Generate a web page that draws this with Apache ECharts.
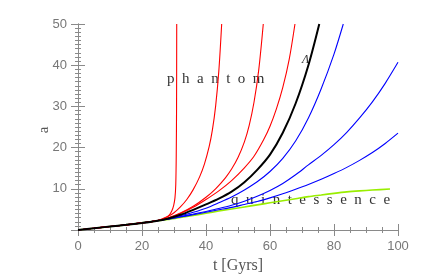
<!DOCTYPE html>
<html>
<head>
<meta charset="utf-8">
<script src="https://cdn.jsdelivr.net/npm/echarts@6/dist/echarts.min.js"></script>
<style>
html,body{margin:0;padding:0;background:#fff;}
#chart{width:421px;height:280px;}
</style>
</head>
<body>
<div id="chart"></div>
<script>
// shared early history (t in Gyr, a)
var commonT = [0, 5, 10, 15, 20, 24];
var commonA = [0, 0.42, 0.85, 1.25, 1.72, 2.15];

// phantom curves (red)
var red1T = [26, 27.5, 28.5, 29.3, 29.9, 30.3, 30.55, 30.7, 30.8, 30.85];
var red1A = [2.55, 3.0, 3.6, 4.6, 6.0, 7.8, 11, 18, 30, 50];
var red2T = [26, 28, 30, 32, 34, 36, 38, 39.5, 41, 42, 43, 44, 44.9];
var red2A = [2.6, 3.25, 4.2, 5.6, 7.4, 9.8, 12.9, 16.0, 20.3, 24.3, 30.0, 38.5, 50];
var red3T = [28, 32, 36, 40, 43, 46, 48, 50, 52, 53.5, 55, 56.5, 57.9];
var red3A = [2.9, 4.1, 5.75, 7.95, 10.0, 12.6, 14.8, 17.6, 21.4, 25.4, 31.0, 39.0, 50];
var red4T = [28, 32, 36, 40, 44, 48, 52, 55, 58, 60, 62, 64, 66, 67.8];
var red4A = [2.85, 4.0, 5.5, 7.4, 9.5, 12.0, 15.1, 17.9, 21.9, 25.2, 29.4, 34.6, 41.4, 50];

// cosmological constant (black)
var lambdaT = [28, 32, 36, 40, 44, 48, 52, 56, 60, 64, 68, 72, 75.4];
var lambdaA = [2.75, 3.7, 4.9, 6.2, 7.6, 9.3, 11.6, 14.6, 18.3, 23.6, 30.7, 40.0, 50];

// quintessence curves (blue)
var blue1T = [28, 32, 36, 40, 44, 48, 52, 56, 60, 64, 68, 72, 76, 80, 82.9];
var blue1A = [2.7, 3.45, 4.3, 5.3, 6.6, 8.0, 9.7, 11.7, 14.2, 17.4, 21.6, 27.2, 34.3, 42.7, 50];
var blue2T = [28, 32, 36, 40, 44, 48, 52, 56, 60, 64, 68, 72, 76, 80, 84, 88, 92, 96, 100];
var blue2A = [2.65, 3.25, 3.85, 4.5, 5.2, 6.0, 7.0, 8.2, 9.6, 11.3, 13.4, 15.8, 18.1, 20.7, 23.7, 27.2, 31.1, 35.6, 40.7];
var blue3T = [28, 32, 36, 40, 44, 48, 52, 56, 60, 64, 68, 72, 76, 80, 84, 88, 92, 96, 100];
var blue3A = [2.6, 3.15, 3.7, 4.3, 4.9, 5.5, 6.2, 6.9, 7.8, 8.8, 9.9, 11.05, 12.3, 13.7, 15.2, 16.9, 18.8, 21.0, 23.5];

// slow quintessence (green)
var greenT = [28, 32, 36, 40, 44, 48, 52, 56, 60, 64, 68, 72, 76, 80, 84, 88, 92, 97.5];
var greenA = [2.55, 3.05, 3.55, 4.05, 4.6, 5.1, 5.6, 6.1, 6.6, 7.1, 7.6, 8.1, 8.5, 8.9, 9.25, 9.5, 9.7, 9.95];

var xTicks = [0, 20, 40, 60, 80, 100];
var yTicks = [10, 20, 30, 40, 50];

function pts(t, a) {
  var out = [];
  for (var i = 0; i < commonT.length; i++) out.push([commonT[i], commonA[i]]);
  for (var j = 0; j < t.length; j++) out.push([t[j], a[j]]);
  return out;
}

var curves = [
  {d: pts(greenT, greenA), c: '#99ee00', w: 1.6},
  {d: pts(blue3T, blue3A), c: '#0000ff', w: 1.1},
  {d: pts(blue2T, blue2A), c: '#0000ff', w: 1.1},
  {d: pts(blue1T, blue1A), c: '#0000ff', w: 1.1},
  {d: pts(red4T, red4A), c: '#ff0000', w: 1.1},
  {d: pts(red3T, red3A), c: '#ff0000', w: 1.1},
  {d: pts(red2T, red2A), c: '#ff0000', w: 1.1},
  {d: pts(red1T, red1A), c: '#ff0000', w: 1.1},
  {d: pts(lambdaT, lambdaA), c: '#000000', w: 2}
];

var axisGrey = '#8a8a8a';
var labelGrey = '#777';

function xAx(pos, showLabel) {
  return {
    type: 'value', position: pos, min: 0, max: 100, interval: 20,
    axisLine: {show: true, lineStyle: {color: axisGrey, width: 1}},
    axisTick: {show: true, inside: true, length: 6, lineStyle: {color: axisGrey}},
    minorTick: {show: true, splitNumber: 4, length: 3, lineStyle: {color: axisGrey}},
    splitLine: {show: false},
    axisLabel: {show: showLabel, color: labelGrey, fontSize: 13, margin: 10,
      fontFamily: 'Liberation Sans',
      formatter: function (v) { return xTicks.indexOf(v) >= 0 ? String(v) : ''; }},
    name: showLabel ? 't [Gyrs]' : '',
    nameLocation: 'middle', nameGap: 23,
    nameTextStyle: {fontFamily: 'Liberation Serif', fontSize: 16, color: '#555'}
  };
}
function yAx(pos, showLabel) {
  return {
    type: 'value', position: pos, min: 0, max: 50, interval: 10,
    axisLine: {show: true, lineStyle: {color: axisGrey, width: 1}},
    axisTick: {show: true, inside: true, length: 7, lineStyle: {color: axisGrey}},
    minorTick: {show: true, splitNumber: 10, length: 3, lineStyle: {color: axisGrey}},
    splitLine: {show: false},
    axisLabel: {show: showLabel, color: labelGrey, fontSize: 13, margin: 11,
      fontFamily: 'Liberation Sans',
      formatter: function (v) { return yTicks.indexOf(v) >= 0 ? String(v) : ''; }}
  };
}

var chart = echarts.init(document.getElementById('chart'), null, {renderer: 'canvas'});
chart.setOption({
  animation: false,
  backgroundColor: '#fff',
  grid: {left: 78, right: 23, top: 24, bottom: 50},
  xAxis: [xAx('bottom', true), xAx('top', false)],
  yAxis: [yAx('left', true), yAx('right', false)],
  series: curves.map(function (s) {
    return {
      type: 'line', xAxisIndex: 0, yAxisIndex: 0, data: s.d,
      showSymbol: false, symbol: 'none', smooth: 0.3,
      lineStyle: {color: s.c, width: s.w}, clip: true, silent: true
    };
  }),
  graphic: [
    {type: 'text', x: 44, y: 130, rotation: Math.PI / 2,
      style: {text: 'a', font: '15px "Liberation Serif"', fill: '#555', textAlign: 'center', textVerticalAlign: 'middle'}},
    {type: 'text', left: 167, top: 72, style: {text: 'p  h  a  n  t  o  m', font: '15px "Liberation Serif"', fill: '#333'}},
    {type: 'text', left: 302, top: 54, style: {text: 'Λ', font: 'italic 12px "Liberation Serif"', fill: '#333'}},
    {type: 'text', left: 231, top: 193, style: {text: 'q  u  i  n  t  e  s  s  e  n  c  e', font: '15px "Liberation Serif"', fill: '#333'}}
  ]
});
</script>
</body>
</html>
